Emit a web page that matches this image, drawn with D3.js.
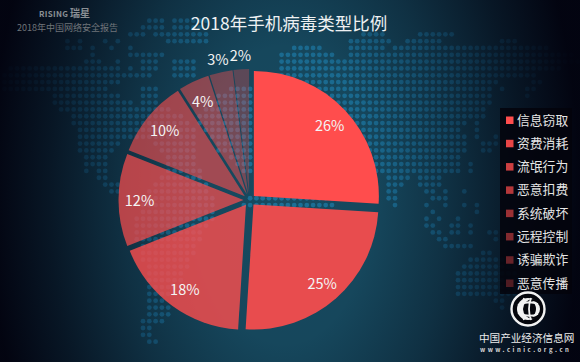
<!DOCTYPE html>
<html>
<head>
<meta charset="utf-8">
<script src="https://cdn.jsdelivr.net/npm/d3@7"></script>
<style>
    html, body { margin: 0; padding: 0; background: #02020e; overflow: hidden; }
    text { font-family: "Noto Sans CJK SC", "Noto Sans", sans-serif; }
</style>
</head>
<body>
<div id="myPlot"></div>
<script>
const titleText = "2018年手机病毒类型比例";
const reportText = "2018年中国网络安全报告";
const categories = ["信息窃取", "资费消耗", "流氓行为", "恶意扣费", "系统破坏", "远程控制", "诱骗欺诈", "恶意传播"];
const values = [26, 25, 18, 12, 10, 4, 3, 2];

// dotted world map behind the pie: [row, first column, last column]
const mapSpans = [
    [-2, 23, 25], [-2, 27, 32], [-1, 22, 25], [-1, 27, 31],
    [0, 20, 22], [0, 24, 32], [0, 57, 60], [0, 66, 71],
    [1, 10, 10], [1, 12, 12], [1, 16, 16], [1, 18, 18], [1, 26, 32], [1, 55, 61], [1, 64, 69], [1, 79, 81],
    [2, 10, 12], [2, 14, 14], [2, 17, 17], [2, 20, 20], [2, 46, 50], [2, 55, 60], [2, 62, 86],
    [3, 14, 14], [3, 20, 22], [3, 23, 25], [3, 44, 52], [3, 55, 90],
    [4, 13, 15], [4, 18, 18], [4, 22, 24], [4, 27, 30], [4, 44, 93],
    [5, 1, 18], [5, 20, 20], [5, 22, 24], [5, 27, 30], [5, 44, 88],
    [6, 0, 23], [6, 27, 30], [6, 42, 84],
    [7, 0, 18], [7, 40, 78], [7, 84, 85],
    [8, 0, 16], [8, 22, 24], [8, 36, 77], [8, 79, 79], [8, 83, 84],
    [9, 8, 18], [9, 22, 24], [9, 34, 77], [9, 83, 83],
    [10, 8, 20], [10, 22, 24], [10, 33, 77],
    [11, 9, 26], [11, 32, 76], [12, 11, 28], [12, 31, 76],
    [13, 11, 29], [13, 31, 73], [13, 75, 75], [14, 12, 30], [14, 32, 72], [14, 75, 75],
    [15, 12, 30], [15, 33, 73], [15, 75, 75], [15, 78, 78],
    [16, 12, 18], [16, 24, 30], [16, 34, 73], [16, 76, 78],
    [17, 12, 17], [17, 25, 30], [17, 34, 73], [17, 76, 77],
    [18, 13, 16], [18, 26, 30], [18, 36, 72], [19, 13, 16], [19, 26, 30], [19, 37, 72], [19, 74, 74],
    [20, 13, 13], [20, 15, 16], [20, 26, 31], [20, 38, 72], [20, 74, 74],
    [21, 15, 16], [21, 25, 31], [21, 40, 57], [21, 61, 64], [21, 66, 69],
    [22, 16, 18], [22, 24, 32], [22, 40, 55], [22, 61, 63], [22, 66, 69],
    [23, 17, 18], [23, 23, 32], [23, 40, 54], [23, 61, 62], [23, 67, 68], [23, 70, 70], [23, 73, 73],
    [24, 23, 33], [24, 39, 54], [24, 61, 62], [24, 68, 70],
    [25, 22, 33], [25, 38, 52], [25, 62, 62], [25, 67, 67], [25, 70, 70], [25, 73, 73], [25, 75, 75],
    [26, 22, 33], [26, 68, 68], [26, 75, 75], [27, 21, 33], [27, 67, 67], [27, 69, 69], [27, 72, 72],
    [28, 21, 32], [28, 67, 68], [28, 71, 72], [28, 74, 74], [29, 21, 31], [29, 68, 69], [29, 71, 72], [29, 74, 74], [29, 77, 78],
    [30, 21, 31], [30, 69, 70], [30, 78, 78], [31, 22, 30], [31, 70, 74], [32, 22, 30], [32, 76, 77],
    [33, 22, 29], [33, 74, 81], [34, 23, 29], [34, 73, 81], [35, 23, 28], [35, 72, 81],
    [36, 23, 28], [36, 72, 81], [37, 23, 27], [37, 72, 81], [38, 23, 27], [38, 72, 81],
    [39, 23, 25], [39, 78, 79], [40, 23, 26], [40, 79, 79], [41, 23, 26], [42, 22, 25],
    [43, 22, 23], [44, 22, 23], [45, 23, 24]
];

const width = 580;
const height = 362;
const center = { x: 249.5, y: 200 };
const radius = 125;
const explode = 6;

const svg = d3.select("#myPlot")
    .append("svg")
    .attr("width", width)
    .attr("height", height)
    .style("display", "block");

const defs = svg.append("defs");

// Dark vignette that sits on top of the map
const vignette = defs.append("radialGradient")
    .attr("id", "vignette")
    .attr("gradientUnits", "userSpaceOnUse")
    .attr("cx", 0).attr("cy", 0).attr("r", 1)
    .attr("gradientTransform", "translate(285,195) scale(295,500)");
[[0, 0], [0.3, 0.06], [0.55, 0.36], [0.8, 0.72], [1, 0.97]].forEach(s => {
    vignette.append("stop")
        .attr("offset", s[0])
        .attr("stop-color", "#02020e")
        .attr("stop-opacity", s[1]);
});

// Background
svg.append("rect").attr("width", width).attr("height", height).attr("fill", "#174b61");

const dotX = d3.scaleLinear().domain([0, 65]).range([4.4, 413.9]);
const dotY = d3.scaleLinear().domain([0, 39]).range([34.3, 300.7]);

const mapDots = [];
mapSpans.forEach(s => {
    d3.range(s[1], s[2] + 1).forEach(col => mapDots.push({ row: s[0], col: col }));
});

svg.append("g")
    .selectAll("circle")
    .data(mapDots)
    .join("circle")
    .attr("cx", d => dotX(d.col))
    .attr("cy", d => dotY(d.row))
    .attr("r", 2.4)
    .attr("fill", "#2088bb")
    .attr("fill-opacity", 0.6);

svg.append("rect").attr("width", width).attr("height", height).attr("fill", "url(#vignette)");

// Pie
const opacity = d3.scaleLinear().domain([0, categories.length - 1]).range([1, 0.3]);
const pieData = d3.pie().sort(null)(values);
const arc = d3.arc().innerRadius(0).outerRadius(radius);
const labelArc = d3.arc().innerRadius(110).outerRadius(110);
const outerLabelArc = d3.arc().innerRadius(145).outerRadius(145);

const plot = svg.append("g").attr("transform", `translate(${center.x},${center.y})`);

plot.selectAll("path")
    .data(pieData)
    .join("path")
    .attr("d", arc)
    .attr("transform", d => {
        const mid = (d.startAngle + d.endAngle) / 2;
        return `translate(${explode * Math.sin(mid)},${-explode * Math.cos(mid)})`;
    })
    .attr("fill", "#ff4d4d")
    .attr("fill-opacity", (d, i) => opacity(i));

plot.selectAll("text")
    .data(pieData)
    .join("text")
    .attr("transform", d => `translate(${(d.value < 4 ? outerLabelArc : labelArc).centroid(d)})`)
    .attr("text-anchor", "middle")
    .attr("dy", "0.42em")
    .attr("font-size", 14.5)
    .attr("fill", "#f4f4f4")
    .text(d => d.value + "%");

// Title and report name
svg.append("text")
    .attr("x", 289).attr("y", 30)
    .attr("text-anchor", "middle")
    .attr("font-size", 17.5)
    .attr("fill", "#eef1f2")
    .text(titleText);

svg.append("text")
    .attr("x", 39).attr("y", 17)
    .attr("font-size", 8)
    .attr("font-weight", 700)
    .attr("letter-spacing", 0.3)
    .attr("fill", "#8a8f94")
    .text("RISING");

svg.append("text")
    .attr("x", 70).attr("y", 17)
    .attr("font-size", 10)
    .attr("font-weight", 700)
    .attr("fill", "#8a8f94")
    .text("瑞星");

svg.append("text")
    .attr("x", 17).attr("y", 31)
    .attr("font-size", 9)
    .attr("fill", "#6f7479")
    .text(reportText);

// Legend
svg.append("rect")
    .attr("x", 500).attr("y", 108)
    .attr("width", 72).attr("height", 186)
    .attr("fill", "#03040c")
    .attr("fill-opacity", 0.85);

const legendY = d3.scalePoint().domain(categories).range([120, 283]);

const legend = svg.append("g")
    .selectAll("g")
    .data(categories)
    .join("g")
    .attr("transform", d => `translate(506,${legendY(d)})`);

legend.append("rect")
    .attr("y", -3.5)
    .attr("width", 7.5).attr("height", 7.5)
    .attr("fill", "#ff4d4d")
    .attr("fill-opacity", (d, i) => opacity(i));

legend.append("text")
    .attr("x", 11)
    .attr("dy", "0.36em")
    .attr("font-size", 12.8)
    .attr("fill", "#e6e6e6")
    .text(d => d);

// Source logo
const logo = svg.append("g").attr("transform", "translate(528,309)");
logo.append("circle").attr("r", 16.5).attr("fill", "#05060c").attr("stroke", "#f2f2f2").attr("stroke-width", 2.4);
logo.append("circle").attr("r", 11).attr("fill", "#f2f2f2");
logo.append("circle").attr("cx", 5).attr("r", 10).attr("fill", "#05060c");
logo.append("path").attr("d", "M-10,-4Q0,-9 10,-5M-10,4Q0,9 10,5M-4,-11Q-8,0 -4,11M3,-11Q-1,0 3,11")
    .attr("fill", "none").attr("stroke", "#f2f2f2").attr("stroke-width", 1.8);
logo.append("path").attr("d", "M4,-8A8,8 0 0 1 4,8A10,10 0 0 0 4,-8Z").attr("fill", "#f2f2f2");

svg.append("text")
    .attr("x", 479).attr("y", 341.5)
    .attr("font-size", 10.6)
    .attr("fill", "#ececec")
    .text("中国产业经济信息网");

svg.append("text")
    .attr("x", 480).attr("y", 352)
    .attr("font-size", 6)
    .attr("font-weight", 700)
    .attr("letter-spacing", 2.5)
    .attr("fill", "#d8d8d8")
    .text("www.cinic.org.cn");
</script>
</body>
</html>
